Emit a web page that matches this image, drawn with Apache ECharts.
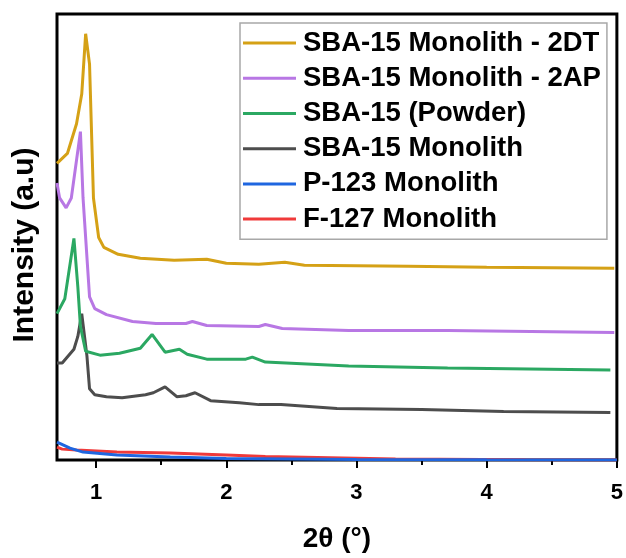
<!DOCTYPE html>
<html>
<head>
<meta charset="utf-8">
<script src="https://cdn.jsdelivr.net/npm/echarts@6/dist/echarts.min.js"></script>
<style>
  html, body { margin: 0; padding: 0; background: #fff; }
  #chart { width: 626px; height: 558px; }
</style>
</head>
<body>
<div id="chart"></div>
<script>
// Small-angle XRD patterns, pairs of [2θ (°), intensity (a.u.)]
const sba2DT = [[0.70,300],[0.78,310],[0.85,340],[0.89,370],[0.92,431],[0.95,400],[0.98,265],[1.02,225],[1.06,215],[1.17,208],[1.34,204],[1.60,202],[1.85,203],[2.00,199],[2.25,198],[2.45,200],[2.60,197],[3.00,196.5],[3.40,196],[4.00,195],[4.50,194.5],[4.98,194]];
const sba2AP = [[0.70,280],[0.72,265],[0.77,255],[0.81,265],[0.88,332],[0.90,265],[0.95,165],[0.99,153],[1.08,147],[1.28,140],[1.46,138],[1.69,138],[1.74,140],[1.85,136],[2.25,135],[2.30,137],[2.43,133],[2.94,131],[3.70,131],[4.98,129]];
const sbaPowder = [[0.70,148],[0.76,163],[0.83,224],[0.86,175],[0.88,135],[0.92,110],[1.03,106],[1.18,108],[1.34,113],[1.43,127],[1.53,109],[1.64,112],[1.70,107],[1.85,102],[2.15,102],[2.20,104],[2.30,99],[2.94,95],[3.70,93],[4.95,91]];
const sbaMonolith = [[0.70,98],[0.74,98],[0.83,112],[0.86,125],[0.89,148],[0.90,147],[0.93,105],[0.95,72],[0.99,66],[1.08,64],[1.20,63],[1.38,66],[1.44,68],[1.53,74],[1.62,64],[1.69,65],[1.76,68],[1.88,60],[2.10,58],[2.25,56],[2.42,56],[2.85,52],[3.50,51],[4.13,49],[4.95,48]];
const p123Monolith = [[0.70,18],[0.80,12],[0.90,8],[1.16,5],[1.57,3],[2.00,1.5],[3.00,0.5],[4.00,0.2],[5.00,0]];
const f127Monolith = [[0.70,13],[0.74,11],[0.85,10],[1.16,8],[1.57,7],[2.00,5],[2.30,3.5],[3.30,1],[4.30,0.3],[5.00,0]];

const seriesNames = ['SBA-15 Monolith - 2DT', 'SBA-15 Monolith - 2AP', 'SBA-15 (Powder)', 'SBA-15 Monolith', 'P-123 Monolith', 'F-127 Monolith'];
const seriesData = [sba2DT, sba2AP, sbaPowder, sbaMonolith, p123Monolith, f127Monolith];
const seriesColors = ['#D5A116', '#B877E4', '#2BA862', '#4D4D4D', '#1F66E0', '#F03A3A'];

const majorTicks = [1, 2, 3, 4, 5];
const minorTicks = [1.5, 2.5, 3.5, 4.5];

const FONT = 'Liberation Sans, Arial, sans-serif';

const chart = echarts.init(document.getElementById('chart'), null, { renderer: 'canvas' });

const series = seriesNames.map((name, i) => ({
  name,
  type: 'line',
  data: seriesData[i],
  xAxisIndex: 0,
  yAxisIndex: 0,
  showSymbol: false,
  symbol: 'none',
  smooth: false,
  lineStyle: { color: seriesColors[i], width: 3 },
  itemStyle: { color: seriesColors[i] },
  z: 10 - i
})).reverse();

chart.setOption({
  animation: false,
  backgroundColor: '#fff',
  grid: {
    left: 57, right: 9, top: 14, bottom: 93,
    show: true, borderColor: '#000', borderWidth: 3, backgroundColor: 'transparent'
  },
  legend: {
    orient: 'vertical',
    left: 240, top: 23,
    data: seriesNames,
    icon: 'rect',
    itemWidth: 53, itemHeight: 3,
    itemGap: 5,
    padding: [5, 6, 5, 3],
    borderColor: '#a8a8a8', borderWidth: 1.5,
    backgroundColor: '#fff',
    textStyle: { fontFamily: FONT, fontWeight: 'bold', fontSize: 27.5, color: '#000', lineHeight: 30.2, padding: [0, 0, 0, 2] }
  },
  xAxis: [
    {
      type: 'value', min: 0.7, max: 5,
      name: '2θ (°)', nameLocation: 'middle', nameGap: 65,
      nameTextStyle: { fontFamily: FONT, fontWeight: 'bold', fontSize: 28, color: '#000' },
      axisLine: { show: false },
      splitLine: { show: false },
      axisTick: { show: true, length: 8, inside: false, customValues: majorTicks, lineStyle: { color: '#000', width: 2 } },
      axisLabel: { customValues: majorTicks, margin: 22, fontFamily: FONT, fontWeight: 'bold', fontSize: 22, color: '#000' }
    },
    {
      type: 'value', min: 0.7, max: 5, position: 'bottom',
      axisLine: { show: false },
      splitLine: { show: false },
      axisTick: { show: true, length: 5, inside: false, customValues: minorTicks, lineStyle: { color: '#000', width: 2 } },
      axisLabel: { show: false }
    }
  ],
  yAxis: {
    type: 'value', min: 0, max: 451,
    name: 'Intensity (a.u)', nameLocation: 'middle', nameRotate: 90, nameGap: 17,
    nameTextStyle: { fontFamily: FONT, fontWeight: 'bold', fontSize: 30, color: '#000', padding: [0, 16, 0, 0] },
    axisLine: { show: false },
    axisTick: { show: false },
    axisLabel: { show: false },
    splitLine: { show: false }
  },
  series
});
</script>
</body>
</html>
